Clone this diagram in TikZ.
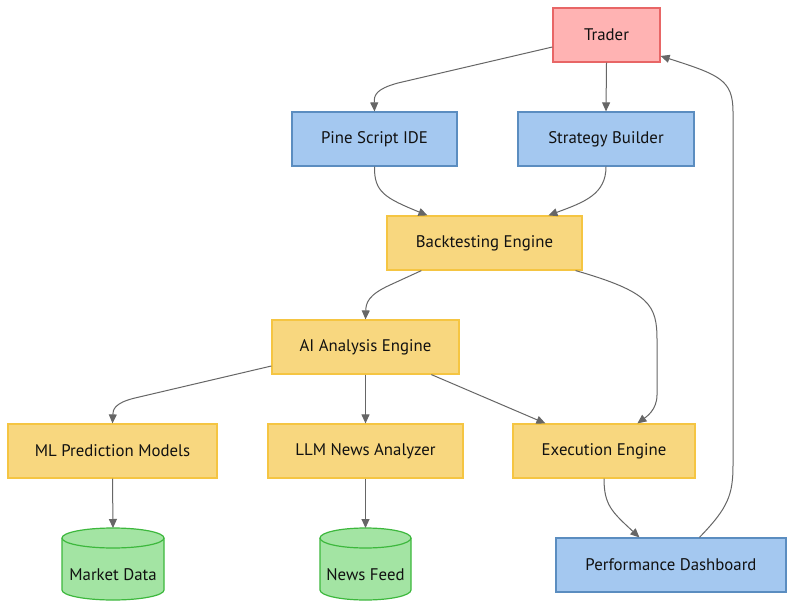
\documentclass[tikz,border=0pt]{standalone}
\usepackage{fontspec}
\setmainfont{PT Sans}
\usetikzlibrary{arrows.meta,calc}
\definecolor{edgec}{HTML}{666666}
\definecolor{redfill}{HTML}{FFB3B3}
\definecolor{redline}{HTML}{E86666}
\definecolor{bluefill}{HTML}{A4C8F0}
\definecolor{blueline}{HTML}{5B8DC0}
\definecolor{yelfill}{HTML}{F8D77F}
\definecolor{yelline}{HTML}{F5C542}
\definecolor{grnfill}{HTML}{A3E4A3}
\definecolor{grnline}{HTML}{3DB83D}
\definecolor{txt}{HTML}{111111}
\tikzset{
  box/.style={rectangle, minimum height=54pt, inner sep=0pt, line width=1.2pt, text=txt, font=\fontsize{16.8}{19}\selectfont},
  redbox/.style={box, fill=redfill, draw=redline},
  bluebox/.style={box, fill=bluefill, draw=blueline},
  yelbox/.style={box, fill=yelfill, draw=yelline},
  cyltext/.style={text=txt, font=\fontsize{16.8}{19}\selectfont, inner sep=0pt},
  cylshape/.style={fill=grnfill, draw=grnline, line width=1.2pt},
  edge/.style={draw=edgec, line width=1pt, -{Triangle[length=9pt,width=8pt]}}
}
\begin{document}
\begin{tikzpicture}[x=1pt,y=1pt]
\useasboundingbox (0,0) rectangle (794,-609);
\fill[white] (0,0) rectangle (794,-609);

% nodes
\node[redbox, minimum width=107pt] (trader) at (606.5,-35) {Trader};
\node[bluebox, minimum width=165pt] (pine) at (374.5,-139) {Pine Script IDE};
\node[bluebox, minimum width=176pt] (strat) at (606,-139) {Strategy Builder};
\node[yelbox, minimum width=195pt] (bt) at (484.5,-243) {Backtesting Engine};
\node[yelbox, minimum width=187pt] (ai) at (365.5,-347) {AI Analysis Engine};
\node[yelbox, minimum width=209pt] (ml) at (112.5,-451) {ML Prediction Models};
\node[yelbox, minimum width=195pt] (llm) at (365.5,-451) {LLM News Analyzer};
\node[yelbox, minimum width=182pt] (exec) at (604,-451) {Execution Engine};
\node[bluebox, minimum width=230pt] (perf) at (671,-565) {Performance Dashboard};

% cylinders
\path[cylshape] (62,-538) -- (62,-590) arc[start angle=180,end angle=360,x radius=51,y radius=10]
  -- (164,-538) arc[start angle=0,end angle=180,x radius=51,y radius=10] -- cycle;
\draw[grnline, line width=1.2pt] (62,-538) arc[start angle=180,end angle=360,x radius=51,y radius=10];
\node[cyltext] (md) at (113,-575) {Market Data};
\coordinate (mdtop) at (113,-528);

\path[cylshape] (320,-538) -- (320,-590) arc[start angle=180,end angle=360,x radius=45.5,y radius=10]
  -- (411,-538) arc[start angle=0,end angle=180,x radius=45.5,y radius=10] -- cycle;
\draw[grnline, line width=1.2pt] (320,-538) arc[start angle=180,end angle=360,x radius=45.5,y radius=10];
\node[cyltext] (nf) at (365.5,-575) {News Feed};
\coordinate (nftop) at (365.5,-528);

% edges
\draw[edge] ($(trader.west)+(0,-12)$) -- (398,-83) .. controls (376,-89) and (374,-95) .. (pine.north);
\draw[edge] (trader.south) -- (strat.north);
\draw[edge] (pine.south) .. controls (374,-192) and (385,-198) .. ($(bt.north west)+(41,0)$);
\draw[edge] (strat.south) .. controls (606,-194) and (585,-202) .. ($(bt.north west)+(162,0)$);
\draw[edge] ($(bt.south west)+(35,0)$) -- (390,-285) .. controls (368,-295) and (366,-303) .. (ai.north);
\draw[edge] ($(bt.south east)+(-7,0)$) .. controls (650,-292) and (657,-305) .. (657,-340) -- (657,-395) .. controls (657,-410) and (646,-417) .. ($(exec.north west)+(125,0)$);
\draw[edge] ($(ai.west)+(0,-19)$) -- (135,-398) .. controls (114,-403) and (113,-410) .. (ml.north);
\draw[edge] (ai.south) -- (llm.north);
\draw[edge] ($(ai.south west)+(160,0)$) -- ($(exec.north west)+(33,0)$);
\draw[edge] (ml.south) -- (mdtop);
\draw[edge] (llm.south) -- (nftop);
\draw[edge] (exec.south) .. controls (604,-505) and (612,-512) .. ($(perf.north west)+(84,0)$);
\draw[edge] ($(perf.north west)+(144,0)$) .. controls (728,-508) and (733,-495) .. (733,-465) -- (733,-112) .. controls (733,-80) and (720,-75) .. ($(trader.east)+(0,-21)$);
\end{tikzpicture}
\end{document}
